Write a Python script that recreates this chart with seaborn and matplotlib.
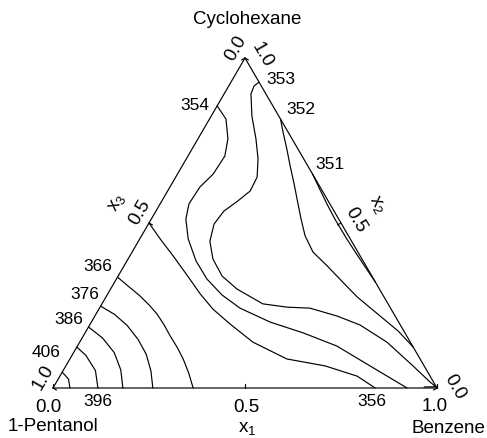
import numpy as np
import pandas as pd
import matplotlib
matplotlib.use("Agg")
import matplotlib.pyplot as plt
import seaborn as sns

sns.set_style("white")
plt.rcParams["font.family"] = ["Liberation Sans", "DejaVu Sans"]
plt.rcParams["mathtext.fontset"] = "custom"
plt.rcParams["mathtext.rm"] = "Liberation Sans"
plt.rcParams["text.color"] = "black"

# Isotherms (K): mole fractions x1 (benzene) and x2 (cyclohexane) along each line
t351_x1 = [0.352, 0.392, 0.438, 0.480, 0.541, 0.594, 0.637, 0.679]
t351_x2 = [0.648, 0.604, 0.554, 0.510, 0.450, 0.400, 0.360, 0.321]

t352_x1 = [0.185, 0.211, 0.247, 0.281, 0.319, 0.349, 0.390, 0.426, 0.471, 0.529, 0.594, 0.654, 0.743, 0.812, 0.876]
t352_x2 = [0.815, 0.776, 0.724, 0.673, 0.618, 0.573, 0.512, 0.461, 0.412, 0.370, 0.321, 0.276, 0.218, 0.173, 0.124]

t353_x1 = [0.073, 0.066, 0.070, 0.106, 0.151, 0.187, 0.212, 0.215, 0.198, 0.177, 0.171, 0.186, 0.221,
           0.271, 0.329, 0.419, 0.487, 0.548, 0.631, 0.704, 0.800, 0.904, 0.973, 0.995, 0.965]
t353_x2 = [0.927, 0.915, 0.891, 0.824, 0.755, 0.694, 0.639, 0.597, 0.567, 0.536, 0.497, 0.445, 0.391,
           0.339, 0.300, 0.255, 0.245, 0.242, 0.218, 0.191, 0.139, 0.067, 0.018, 0.004, 0.003]

t354_x1 = [0.0, 0.043, 0.078, 0.096, 0.093, 0.078, 0.075, 0.090, 0.126, 0.180, 0.236, 0.299, 0.366,
           0.465, 0.568, 0.676, 0.792, 0.922]
t354_x2 = [0.855, 0.815, 0.755, 0.703, 0.648, 0.609, 0.558, 0.512, 0.452, 0.385, 0.330, 0.282, 0.242,
           0.200, 0.167, 0.127, 0.067, 0.0]

t356_x1 = [0.0, 0.053, 0.113, 0.178, 0.241, 0.297, 0.364, 0.451, 0.565, 0.675, 0.774, 0.839]
t356_x2 = [0.500, 0.452, 0.400, 0.342, 0.285, 0.239, 0.194, 0.139, 0.088, 0.067, 0.036, 0.0]

t366_x1 = [0.0, 0.041, 0.087, 0.124, 0.159, 0.194, 0.226, 0.261, 0.295, 0.331, 0.365]
t366_x2 = [0.336, 0.309, 0.279, 0.252, 0.224, 0.191, 0.158, 0.124, 0.088, 0.045, 0.0]

t376_x1 = [0.0, 0.049, 0.099, 0.147, 0.191, 0.229, 0.260]
t376_x2 = [0.248, 0.223, 0.189, 0.148, 0.103, 0.052, 0.0]

t386_x1 = [0.0, 0.054, 0.106, 0.149, 0.182]
t386_x2 = [0.185, 0.151, 0.107, 0.055, 0.0]

t396_x1 = [0.0, 0.036, 0.084, 0.117]
t396_x2 = [0.124, 0.099, 0.053, 0.0]

t406_x1 = [0.0, 0.027, 0.044]
t406_x2 = [0.048, 0.027, 0.0]

isotherms = {351: (t351_x1, t351_x2), 352: (t352_x1, t352_x2), 353: (t353_x1, t353_x2),
             354: (t354_x1, t354_x2), 356: (t356_x1, t356_x2), 366: (t366_x1, t366_x2),
             376: (t376_x1, t376_x2), 386: (t386_x1, t386_x2), 396: (t396_x1, t396_x2),
             406: (t406_x1, t406_x2)}

tick_values = [0.0, 0.5, 1.0]
tick_labels = ["0.0", "0.5", "1.0"]

# Ternary -> figure pixels
X0, Y0, SIDE, HGT = 53.0, 389.0, 384.0, 330.0


def to_px(x1, x2):
    x1 = np.asarray(x1, float)
    x2 = np.asarray(x2, float)
    return X0 + SIDE * (x1 + x2 / 2), Y0 - HGT * x2


rows = []
for t, (a, c) in isotherms.items():
    px, py = to_px(a, c)
    for i in range(len(px)):
        rows.append({"T": t, "i": i, "px": px[i], "py": py[i]})
df = pd.DataFrame(rows)

fig = plt.figure(figsize=(4.87, 4.39), dpi=100)
ax = fig.add_axes([0, 0, 1, 1])

sns.lineplot(data=df, x="px", y="py", units="T", estimator=None, sort=False,
             color="black", lw=0.85, ax=ax, legend=False)

# triangle frame
vx, vy = to_px([0, 1, 0, 0], [0, 0, 1, 0])
ax.plot(vx, vy, color="black", lw=0.85)

# inward ticks
L = 4.0
for v in tick_values:
    bx, by = to_px(v, 0)
    ax.plot([bx, bx], [by, by - L], color="black", lw=0.85)
    lx, ly = to_px(0, 1 - v)
    ax.plot([lx, lx + L * 0.866], [ly, ly + L * 0.5], color="black", lw=0.85)
    rx, ry = to_px(1 - v, v)
    ax.plot([rx, rx - L * 0.866], [ry, ry + L * 0.5], color="black", lw=0.85)

fs = 13.5
kw = dict(ha="center", va="center", rotation_mode="anchor", fontsize=fs, color="black")

# bottom axis (x1)
for (px, py), s in zip([(48, 408), (246, 408), (435, 407)], tick_labels):
    ax.text(px, py, s, **kw)
# left axis (x3): 1.0 at pentanol corner
for (px, py), s in zip([(236, 48), (140, 212), (43, 377)], tick_labels):
    ax.text(px, py, s, rotation=60, **kw)
# right axis (x2): 0.0 at benzene corner
for (px, py), s in zip([(455, 387), (356, 220), (262, 55)], tick_labels):
    ax.text(px, py, s, rotation=-60, **kw)

ax.text(247, 429, r"$\mathregular{x_1}$", **kw)
ax.text(117, 203, r"$\mathregular{x_3}$", rotation=60, **kw)
ax.text(377, 205, r"$\mathregular{x_2}$", rotation=-60, **kw)

ax.text(247, 20, "Cyclohexane", **kw)
ax.text(53, 427, "1-Pentanol", **kw)
ax.text(448, 429, "Benzene", **kw)

label_pos = {354: (195, 106), 353: (281, 79), 352: (301, 110), 351: (330, 165),
             366: (98, 267), 376: (85, 295), 386: (69, 320), 406: (46, 353),
             396: (98, 402), 356: (372, 402)}
for t, (px, py) in label_pos.items():
    ax.text(px, py, str(t), ha="center", va="center", fontsize=12.5, color="black")

ax.set_xlim(0, 487)
ax.set_ylim(439, 0)
ax.axis("off")

fig.savefig("out.png", dpi=100, facecolor="white")
plt.close(fig)
